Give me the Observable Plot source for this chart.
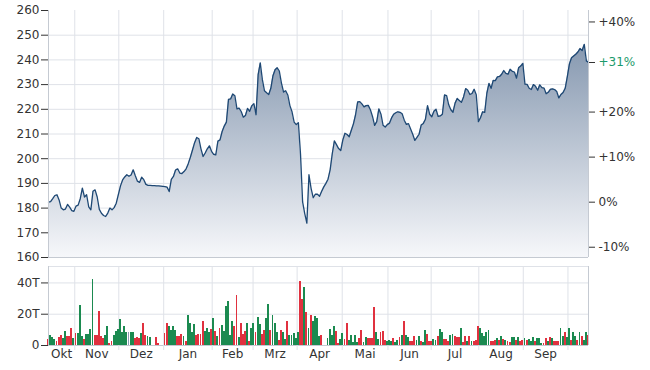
<!DOCTYPE html>
<html><head><meta charset="utf-8">
<script src="https://cdn.jsdelivr.net/npm/d3@7"></script>
<script src="https://cdn.jsdelivr.net/npm/@observablehq/plot@0.6"></script>
<style>
body{margin:0;background:#fff;}
#chart svg{display:block;}
</style></head><body><div id="chart"></div>
<script>
const prices = [
182.4,182.6,183.8,185.1,185.4,183.3,180.0,179.3,179.6,181.5,
180.4,179.0,178.7,180.8,181.2,183.8,188.1,184.5,185.4,180.5,
179.3,186.8,187.4,184.5,179.5,177.9,177.0,176.6,178.0,180.0,
179.3,180.2,182.0,185.5,189.0,191.4,192.6,193.5,192.9,193.4,
195.5,193.1,190.9,190.4,192.5,191.5,189.6,189.2,189.2,189.1,
189.1,189.0,189.0,188.9,188.8,188.7,188.5,186.7,191.6,192.8,
195.4,195.9,194.2,194.0,194.8,195.9,198.0,200.6,203.5,206.5,
208.6,208.1,204.0,200.9,202.3,204.0,205.2,203.0,201.8,201.6,
207.1,207.6,211.0,213.2,214.8,224.0,224.2,226.2,225.5,220.2,
220.5,219.1,216.8,217.5,220.4,219.2,221.4,222.3,217.8,234.0,
238.8,232.0,227.5,226.7,226.0,228.5,233.6,236.0,236.8,235.5,
230.6,227.0,227.5,225.8,221.5,219.0,214.8,213.8,214.6,202.0,
182.5,177.8,173.9,193.5,188.0,184.2,185.6,185.6,184.8,186.8,
188.6,190.0,191.7,195.5,202.0,207.2,205.7,204.1,203.3,207.6,
210.3,209.8,208.9,211.5,214.1,217.8,223.0,223.1,222.2,221.0,
221.5,221.6,219.8,217.1,213.5,215.0,220.2,218.0,213.5,212.8,
213.8,214.4,216.5,218.0,218.6,219.0,218.8,218.2,215.6,213.9,
214.2,212.0,209.9,207.4,208.6,209.9,213.6,214.3,216.0,221.5,
218.0,217.0,219.2,220.0,217.1,217.3,218.0,225.8,225.5,221.8,
219.8,218.8,222.5,224.4,223.6,222.8,225.0,228.4,227.7,226.0,
226.4,228.1,225.9,215.0,216.6,219.0,218.8,226.5,230.5,228.5,
231.7,231.6,233.1,233.3,234.2,235.7,234.5,234.2,236.2,235.4,
235.1,232.6,236.8,237.5,238.6,230.2,230.1,228.5,228.0,230.0,
229.3,227.7,229.9,228.8,228.6,226.3,226.9,228.1,228.3,228.0,
227.2,224.6,226.0,226.8,228.5,233.2,238.4,240.9,241.6,242.3,
243.2,244.6,243.8,246.3,239.6,239.0
];
const volumes = [
3.8,6.4,5.3,3.8,2.8,5.3,6.4,4.3,9.0,5.8,
5.8,11.1,4.7,7.9,7.9,25.6,5.8,3.8,7.1,7.1,
10.3,42.0,6.4,6.4,21.8,6.0,4.3,6.4,12.2,1.5,
2.6,6.4,9.0,10.0,16.6,8.5,12.2,8.1,8.1,8.1,
8.1,4.7,5.3,4.7,7.9,14.3,6.4,5.8,5.3,0,
0,5.3,1.1,0,0,7.9,14.3,12.2,9.6,12.2,
9.6,5.8,5.8,7.1,5.8,2.8,19.2,14.1,8.5,13.7,
6.2,6.8,7.1,15.4,9.2,11.1,8.5,10.0,17.1,9.0,
5.8,10.9,12.8,9.0,25.0,28.2,6.4,15.4,12.2,32.1,
5.3,14.3,7.1,9.2,14.3,2.8,11.1,14.3,8.3,18.2,
13.5,7.1,9.6,17.1,26.5,9.6,19.2,13.9,8.5,3.2,
9.6,8.5,3.8,15.4,6.4,6.4,7.9,4.3,8.5,41.0,
29.5,36.8,21.4,10.7,19.0,15.4,18.6,17.1,5.8,6.4,
0,0,4.7,10.3,6.4,12.2,9.0,1.5,3.8,7.9,
3.6,14.3,3.2,6.4,2.1,6.4,2.1,4.3,9.6,2.1,
5.3,4.3,4.3,4.3,24.6,8.5,3.8,8.5,9.0,3.2,
2.8,3.2,2.8,4.3,2.1,3.0,4.9,6.6,15.5,6.6,
4.9,2.3,2.3,6.0,3.4,5.5,2.3,1.7,9.8,7.0,
2.3,2.3,3.8,3.4,6.0,10.4,8.1,4.0,4.0,2.3,
6.6,7.0,5.5,5.1,5.1,10.9,1.9,6.0,2.3,6.0,
2.3,2.3,3.0,12.3,10.9,7.7,6.0,8.3,9.8,2.3,
2.3,3.4,4.5,3.4,6.0,3.8,3.4,2.3,1.9,5.1,
5.1,3.0,5.1,2.3,3.0,4.5,3.4,3.8,2.3,5.1,
2.3,4.5,4.5,1.5,1.5,4.5,2.3,4.9,4.5,2.8,
2.8,2.8,11.1,5.5,8.1,5.1,10.9,3.4,8.3,5.5,
3.0,8.3,5.5,3.0,8.5,6.6
];
// g = up day, r = down day, n = unchanged, - = no volume
const volumeDir =
"rgggrrrggr" + "rrgrgggrgg" + "ggrrrrrggr" + "rgggggggng" + "grrrgrrgg-" +
"-rr--rrggg" + "grrrgrgggg" + "rrrrgggrgr" + "grggggggrr" + "grrrgrggrg" +
"grrggrgggr" + "rggrgggggr" + "rgrgrggggr" + "--ggggrrgg" + "rrgggggrrg" +
"grrrrggrrr" + "gggrggrgrg" + "grrrggrggr" + "rrggrggrrr" + "ggrrrgrrgr" +
"grrrgggggr" + "rrgrgrgrrg" + "grgrrgrggg" + "rgggrrgrgr" + "rrggrggrgg" + "rgrggr";

const monthStarts = [12.4, 33.2, 54.4, 77.3, 96.6, 117.4, 138.7, 160.3, 180.7, 203.2, 224.2, 245.3];
const monthLabels = ["Okt","Nov","Dez","Jan","Feb","Mrz","Apr","Mai","Jun","Jul","Aug","Sep"];
const priceTicks = [160,170,180,190,200,210,220,230,240,250,260];
const pctTicks = [-10, 0, 10, 20, 40];
const volumeTicks = [0, 20, 40];
const volumeMax = 50.5;

const gridColor = "#dfe2e8";
const frameColor = "#c5cad2";
const textColor = "#333";
const upColor = "#1b8a50";
const downColor = "#e0313f";
const flatColor = "#8a9db5";
const pctUpColor = "#1b9a6b";
const dirColor = {g: upColor, r: downColor, n: flatColor};

const days = prices.map((p, i) => ({i, p, v: volumes[i], d: volumeDir[i]}));
const base = prices[0];
const lastPct = Math.round((prices[prices.length - 1] / base - 1) * 100);
const rightPcts = [...pctTicks, lastPct];
const pctToPrice = p => base * (1 + p / 100);
const xDomain = [0, prices.length - 1];
const monthMids = monthLabels.map((m, k) => ((k === 0 ? xDomain[0] : monthStarts[k - 1]) + monthStarts[k]) / 2);
const labelByMid = new Map(monthMids.map((m, k) => [m, monthLabels[k]]));

const style = {fontFamily: "'DejaVu Sans', Verdana, sans-serif", fontSize: "12px", color: textColor, background: "#fff"};
const W = 650;

const pricePlot = Plot.plot({
  width: W, height: 265,
  marginTop: 10, marginBottom: 8, marginLeft: 48, marginRight: 62,
  style,
  color: {type: "identity"},
  x: {domain: xDomain, axis: null},
  y: {domain: [priceTicks[0], priceTicks[priceTicks.length - 1]]},
  marks: [
    Plot.ruleY(priceTicks.slice(1, -1), {stroke: gridColor}),
    Plot.ruleX(monthStarts, {stroke: gridColor}),
    Plot.areaY(days, {x: "i", y: "p", fill: "url(#priceGrad)", clip: true}),
    Plot.lineY(days, {x: "i", y: "p", stroke: "#1e4874", strokeWidth: 1.3}),
    Plot.ruleX([xDomain[0], xDomain[1]], {stroke: frameColor}),
    Plot.ruleY([priceTicks[0]], {stroke: frameColor}),
    Plot.axisY(priceTicks, {anchor: "left", tickSize: 7, tickPadding: 2, label: null}),
    Plot.axisY(rightPcts.map(pctToPrice), {anchor: "right", tickSize: 6, tickFormat: () => "", label: null}),
    Plot.text(rightPcts, {
      frameAnchor: "right", y: pctToPrice, dx: 10, textAnchor: "start",
      text: p => (p > 0 ? "+" : "") + p + "%",
      fill: p => p === lastPct ? pctUpColor : textColor
    })
  ]
});

const volumePlot = Plot.plot({
  width: W, height: 105,
  marginTop: 1, marginBottom: 25, marginLeft: 48, marginRight: 62,
  style,
  color: {type: "identity"},
  x: {domain: xDomain},
  y: {domain: [0, volumeMax]},
  marks: [
    Plot.ruleY(volumeTicks.slice(1), {stroke: gridColor}),
    Plot.ruleX(monthStarts, {stroke: gridColor}),
    Plot.rectY(days.filter(d => d.v > 0), {
      x1: d => d.i - 0.45, x2: d => d.i + 0.45, y: "v",
      fill: d => dirColor[d.d], shapeRendering: "crispEdges"
    }),
    Plot.ruleY([volumeMax], {stroke: gridColor}),
    Plot.ruleX([xDomain[0], xDomain[1]], {stroke: frameColor}),
    Plot.ruleY([0], {stroke: frameColor}),
    Plot.axisY(volumeTicks, {anchor: "left", tickSize: 7, tickPadding: 2, label: null,
      tickFormat: t => t === 0 ? "0" : t + "T"}),
    Plot.axisX(monthStarts, {tickSize: 5, tickFormat: () => "", stroke: gridColor, label: null}),
    Plot.axisX(monthMids, {tickSize: 0, tickPadding: 4, label: null, tickFormat: d => labelByMid.get(d)})
  ]
});

// vertical gradient for the price area, spanning the price panel
const ys = pricePlot.scale("y");
const ns = "http://www.w3.org/2000/svg";
const defs = document.createElementNS(ns, "defs");
defs.innerHTML = `<linearGradient id="priceGrad" gradientUnits="userSpaceOnUse" x1="0" x2="0" y1="${ys.apply(priceTicks[priceTicks.length-1])}" y2="${ys.apply(priceTicks[0])}">
<stop offset="0" stop-color="#7489a4"/><stop offset="1" stop-color="#f6f7fa"/></linearGradient>`;
pricePlot.prepend(defs);

const root = document.getElementById("chart");
root.append(pricePlot, volumePlot);
</script>
</body></html>
